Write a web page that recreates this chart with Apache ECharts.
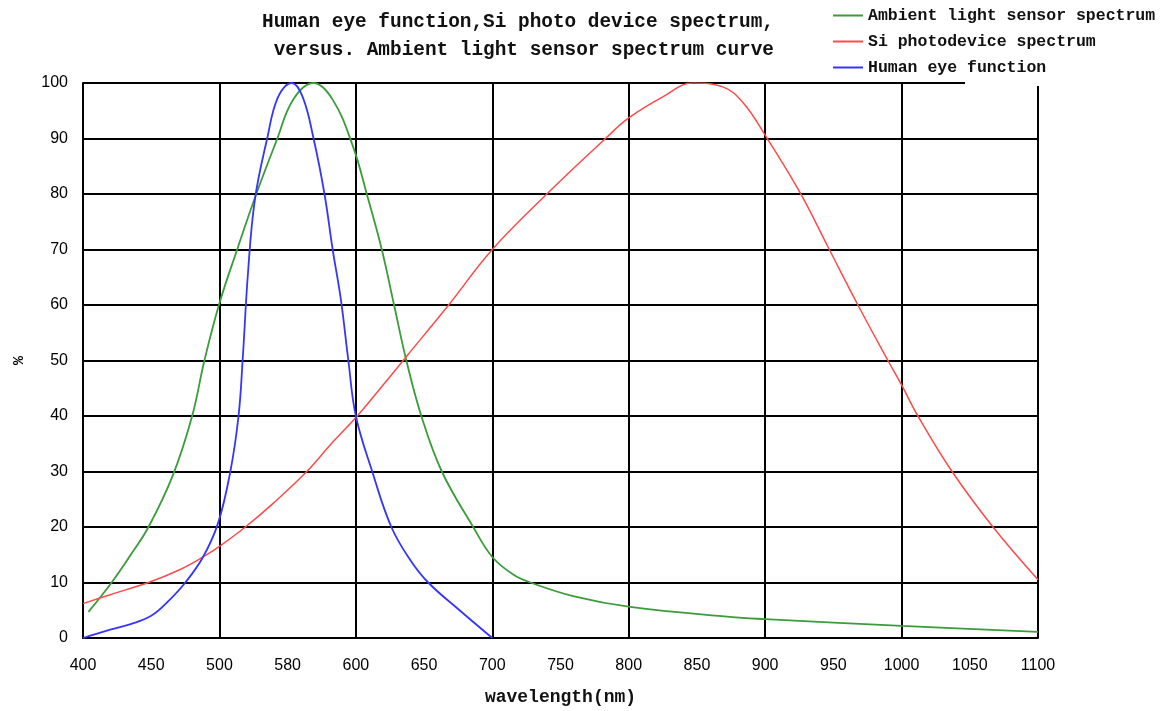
<!DOCTYPE html>
<html>
<head>
<meta charset="utf-8">
<script src="https://cdn.jsdelivr.net/npm/echarts@6/dist/echarts.min.js"></script>
<style>html,body{margin:0;padding:0;background:#fff;overflow:hidden;}#c{width:1164px;height:711px;}</style>
</head>
<body>
<div id="c"></div>
<script>
// ---- data ----
var xTickValues = [400,450,500,550,600,650,700,750,800,850,900,950,1000,1050,1100];
var xTickLabels = ['400','450','500','580','600','650','700','750','800','850','900','950','1000','1050','1100'];
var yTickLabels = ['0','10','20','30','40','50','60','70','80','90','100'];

var seriesNames = ['Ambient light sensor spectrum','Si photodevice spectrum','Human eye function'];

var ambientX = [404,421,435,448,466,480,489,500,513,527,542,554,569,583,598,608,619,628,637,648,663,686,700,715,728,760,801,874,900,1000,1100];
var ambientY = [4.7,10,15,20,29.4,40,50,60.3,70,80,89.7,97,100,97,88.5,80,70,60,50,40,30,20,14.6,11.5,10,7.5,5.6,3.8,3.4,2.2,1.1];

var siX = [400,420,448,470,488,500,519,540,564,582,601,620,638,668,700,740,783,800,825,847,869,884,900,925,946,968,990,1000,1012,1037,1067,1100];
var siY = [6.2,7.8,10,12.2,14.6,16.5,20,24.4,30,35,40,45.6,51,60,70,80,90,93.7,97.5,100,99.3,96.4,90.6,80.5,70.5,60,50,45.6,40,30,20,10.5];

var eyeX = [400,420,435,450,462,475,488,499,508,514,517,521,526,535,543,553,561,569,577,583,589,594.5,600,612,626,640,653,676,700];
var eyeY = [0,1.5,2.5,4,6.5,10,14.6,20.7,30,40,50,66,79,90,97.5,100,97.5,90,80,70,61,50,40,30,20,14,10,5,0];

var colors = ['#3a9c3a','#ff4a4a','#3535ff'];

function pairs(xs, ys){ return xs.map(function(x,i){ return [x, ys[i]]; }); }

var chart = echarts.init(document.getElementById('c'), null, {renderer:'canvas'});
var monoFont = '"Liberation Mono", "DejaVu Sans Mono", monospace';
var sansFont = '"Liberation Sans", Arial, sans-serif';

var option = {
  backgroundColor: '#fff',
  animation: false,
  color: colors,
  title: {
    text: 'Human eye function,Si photo device spectrum,\n versus. Ambient light sensor spectrum curve',
    left: 257, top: 3,
    textStyle: {fontFamily: monoFont, fontSize: 19.4, fontWeight: 'bold', color: '#111', lineHeight: 28}
  },
  legend: {
    data: seriesNames,
    orient: 'vertical',
    left: 833, top: 7,
    padding: 0,
    itemGap: 9,
    itemWidth: 30, itemHeight: 2,
    icon: 'rect',
    textStyle: {fontFamily: monoFont, fontSize: 16.5, fontWeight: 'bold', color: '#111', lineHeight: 16, padding: [0,0,0,0]}
  },
  grid: {left: 83, top: 83, width: 955, height: 555, containLabel: false},
  xAxis: [{
    type: 'value', min: 400, max: 1100, interval: 50,
    axisLine: {show: true, onZero: false, lineStyle: {color: '#000', width: 2}},
    axisTick: {show: false},
    splitLine: {show: false},
    axisLabel: {
      margin: 20, color: '#000', fontFamily: sansFont, fontSize: 16,
      formatter: function(v){ var i = xTickValues.indexOf(v); return i >= 0 ? xTickLabels[i] : ''; }
    },
    name: 'wavelength(nm)', nameLocation: 'middle', nameGap: 50,
    nameTextStyle: {fontFamily: monoFont, fontSize: 18, fontWeight: 'bold', color: '#111'}
  }, {
    type: 'value', min: 400, max: 1100, interval: 100, position: 'bottom',
    axisLine: {show: false}, axisTick: {show: false}, axisLabel: {show: false},
    splitLine: {show: true, lineStyle: {color: '#000', width: 2}}
  }],
  yAxis: {
    type: 'value', min: 0, max: 100, interval: 10,
    axisLine: {show: true, lineStyle: {color: '#000', width: 2}},
    axisTick: {show: false},
    splitLine: {show: true, lineStyle: {color: '#000', width: 2}},
    axisLabel: {
      margin: 15, color: '#000', fontFamily: sansFont, fontSize: 16,
      formatter: function(v){ return yTickLabels[Math.round(v/10)]; }
    },
    name: '%', nameLocation: 'middle', nameGap: 56,
    nameTextStyle: {fontFamily: monoFont, fontSize: 15, fontWeight: 'bold', color: '#000'}
  },
  graphic: [{
    type: 'rect', left: 965, top: 78, z: 100,
    shape: {width: 199, height: 8},
    style: {fill: '#fff'}
  }],
  series: [
    {name: seriesNames[0], type: 'line', data: pairs(ambientX, ambientY), smooth: 0.4, symbol: 'none',
     lineStyle: {width: 1.8, color: colors[0]}, itemStyle: {color: colors[0]}, z: 3},
    {name: seriesNames[1], type: 'line', data: pairs(siX, siY), smooth: 0.4, symbol: 'none',
     lineStyle: {width: 1.5, color: colors[1]}, itemStyle: {color: colors[1]}, z: 3},
    {name: seriesNames[2], type: 'line', data: pairs(eyeX, eyeY), smooth: 0.4, symbol: 'none',
     lineStyle: {width: 1.8, color: colors[2]}, itemStyle: {color: colors[2]}, z: 4}
  ]
};
chart.setOption(option);
</script>
</body>
</html>
